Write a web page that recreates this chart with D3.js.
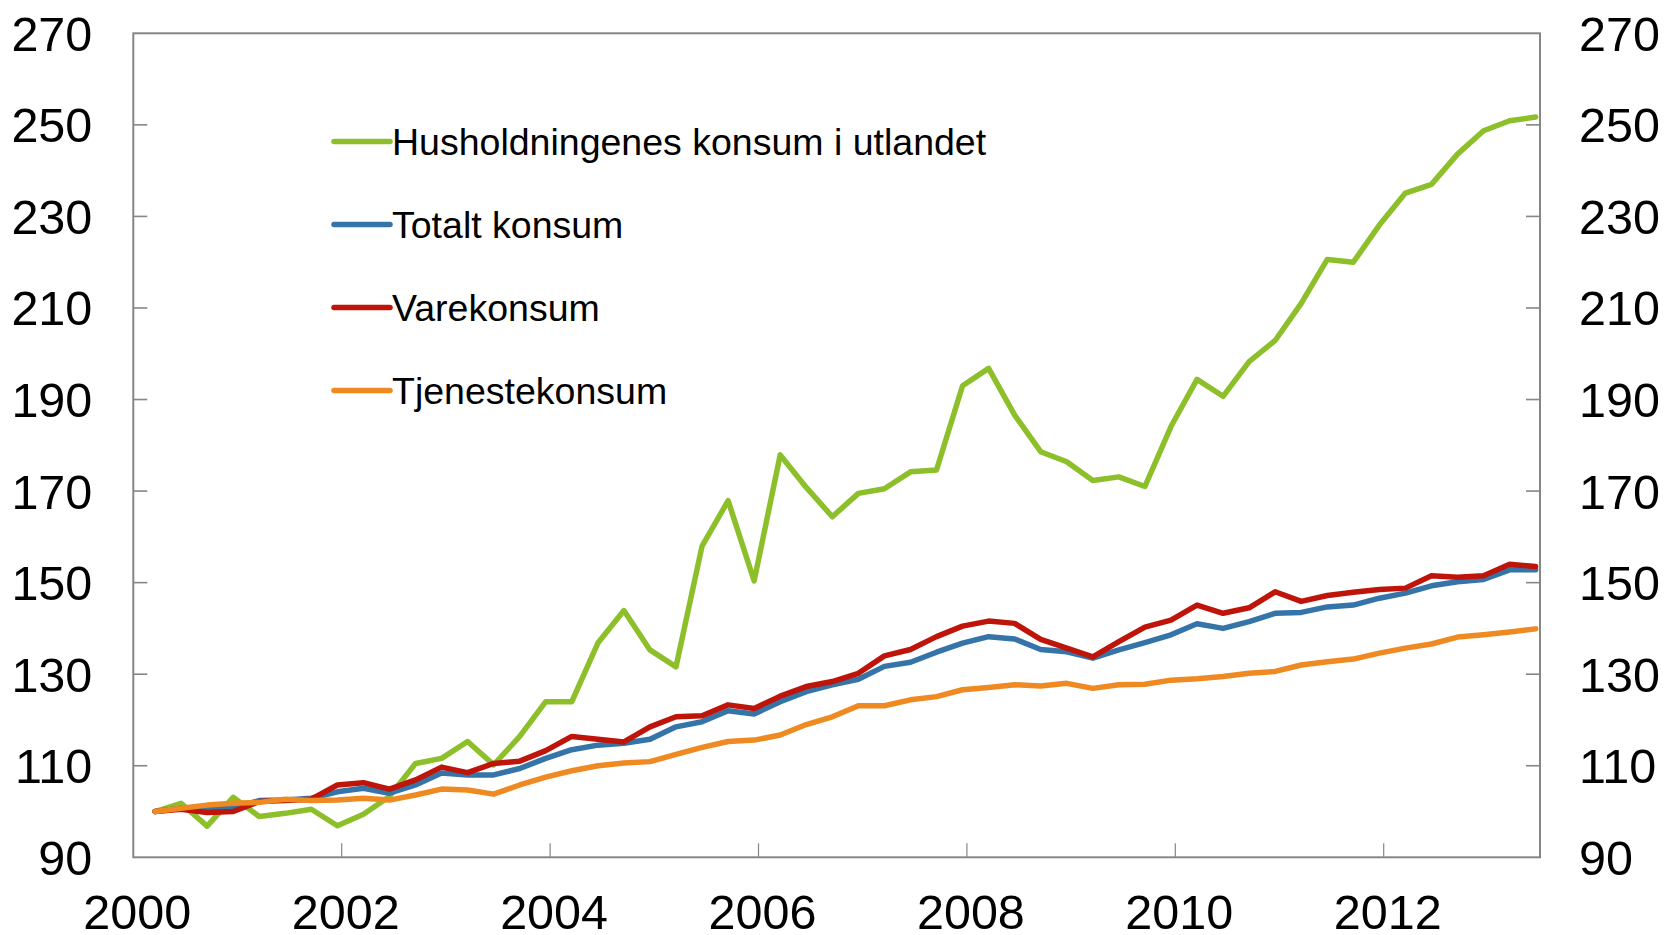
<!DOCTYPE html>
<html>
<head>
<meta charset="utf-8">
<script src="https://cdn.jsdelivr.net/npm/d3@7"></script>
<style>
    body { margin: 0; background: #fff; }
    text { font-family: "Liberation Sans", Arial, sans-serif; fill: #000; }
</style>
</head>
<body>
<div id="chart"></div>
<script>
const quarters = [
    '2000K1', '2000K2', '2000K3', '2000K4', '2001K1', '2001K2', '2001K3', '2001K4',
    '2002K1', '2002K2', '2002K3', '2002K4', '2003K1', '2003K2', '2003K3', '2003K4',
    '2004K1', '2004K2', '2004K3', '2004K4', '2005K1', '2005K2', '2005K3', '2005K4',
    '2006K1', '2006K2', '2006K3', '2006K4', '2007K1', '2007K2', '2007K3', '2007K4',
    '2008K1', '2008K2', '2008K3', '2008K4', '2009K1', '2009K2', '2009K3', '2009K4',
    '2010K1', '2010K2', '2010K3', '2010K4', '2011K1', '2011K2', '2011K3', '2011K4',
    '2012K1', '2012K2', '2012K3', '2012K4', '2013K1', '2013K2'
];

const utlandet = [
    100.0, 101.8, 96.8, 103.1, 98.9, 99.6, 100.5, 96.9, 99.4, 103.3,
    110.5, 111.6, 115.3, 110.2, 116.4, 124.0, 124.0, 136.8, 143.9, 135.3,
    131.6, 158.0, 167.9, 150.4, 177.9, 170.8, 164.4, 169.5, 170.5, 174.2,
    174.6, 193.0, 196.8, 186.6, 178.6, 176.4, 172.3, 173.1, 171.0, 184.1,
    194.4, 190.7, 198.3, 202.9, 211.0, 220.6, 220.0, 228.1, 235.1, 237.0,
    243.6, 248.7, 250.9, 251.7
];

const totalt = [
    100.0, 100.7, 100.5, 100.7, 102.4, 102.5, 102.9, 104.3, 105.1, 104.0,
    105.8, 108.4, 108.0, 108.0, 109.4, 111.6, 113.5, 114.5, 114.9, 115.8,
    118.5, 119.6, 122.0, 121.3, 124.0, 126.2, 127.7, 128.9, 131.7, 132.6,
    134.8, 136.8, 138.2, 137.7, 135.4, 134.9, 133.5, 135.3, 136.9, 138.6,
    141.0, 140.0, 141.5, 143.3, 143.5, 144.7, 145.1, 146.6, 147.7, 149.3,
    150.2, 150.7, 152.8, 152.8
];

const vare = [
    100.0, 100.5, 99.8, 100.0, 102.2, 102.4, 102.7, 105.8, 106.3, 104.9,
    106.9, 109.7, 108.5, 110.5, 111.0, 113.3, 116.4, 115.8, 115.2, 118.5,
    120.7, 120.9, 123.3, 122.5, 125.2, 127.3, 128.4, 130.2, 134.0, 135.4,
    138.2, 140.5, 141.6, 141.1, 137.6, 135.7, 133.8, 137.1, 140.3, 141.8,
    145.1, 143.3, 144.5, 148.0, 145.9, 147.2, 147.9, 148.5, 148.8, 151.5,
    151.2, 151.5, 154.0, 153.5
];

const tjeneste = [
    100.0, 100.7, 101.4, 101.8, 102.0, 102.7, 102.4, 102.5, 102.9, 102.5,
    103.6, 104.9, 104.7, 103.8, 105.8, 107.5, 108.9, 110.0, 110.6, 110.9,
    112.5, 114.0, 115.3, 115.6, 116.7, 119.0, 120.7, 123.1, 123.1, 124.4,
    125.1, 126.6, 127.1, 127.7, 127.4, 128.0, 126.9, 127.7, 127.8, 128.7,
    129.0, 129.5, 130.2, 130.6, 132.0, 132.7, 133.3, 134.6, 135.7, 136.6,
    138.1, 138.6, 139.2, 139.9
];

const seriesNames = ['Husholdningenes konsum i utlandet', 'Totalt konsum', 'Varekonsum', 'Tjenestekonsum'];
const seriesColors = ['#8dbf2b', '#3474a8', '#bf140a', '#ee8a21'];
const seriesValues = [utlandet, totalt, vare, tjeneste];

const xTicks = [2000, 2002, 2004, 2006, 2008, 2010, 2012];
const yTicks = [90, 110, 130, 150, 170, 190, 210, 230, 250, 270];

const width = 1667;
const height = 935;
const margin = { top: 33.3, right: 127, bottom: 77.7, left: 133.3 };
const innerW = width - margin.left - margin.right;
const innerH = height - margin.top - margin.bottom;
const axisColor = '#868686';
const labelSize = '48.5px';

const svg = d3.select('#chart').append('svg')
    .attr('width', width)
    .attr('height', height);

const g = svg.append('g')
    .attr('transform', `translate(${margin.left},${margin.top})`);

const xScale = d3.scaleLinear()
    .domain([2000, 2013.5])
    .range([0, innerW]);

const yScale = d3.scaleLinear()
    .domain([90, 270])
    .range([innerH, 0]);

// quarter label -> position in the middle of the quarter's last month
const quarterPos = q => +q.slice(0, 4) + (+q.slice(5) * 3 - 0.5) / 12;

// frame
g.append('rect')
    .attr('x', 0)
    .attr('y', 0)
    .attr('width', innerW)
    .attr('height', innerH)
    .attr('fill', 'none')
    .attr('stroke', axisColor)
    .attr('stroke-width', 2);

// y ticks, left and right, pointing inwards
g.selectAll('.ytick-l')
    .data(yTicks.slice(1, -1))
    .join('line')
    .attr('class', 'ytick-l')
    .attr('x1', 0)
    .attr('x2', 14)
    .attr('y1', d => yScale(d))
    .attr('y2', d => yScale(d))
    .attr('stroke', axisColor)
    .attr('stroke-width', 1.6);

g.selectAll('.ytick-r')
    .data(yTicks.slice(1, -1))
    .join('line')
    .attr('class', 'ytick-r')
    .attr('x1', innerW - 14)
    .attr('x2', innerW)
    .attr('y1', d => yScale(d))
    .attr('y2', d => yScale(d))
    .attr('stroke', axisColor)
    .attr('stroke-width', 1.6);

g.selectAll('.xtick')
    .data(xTicks.slice(1))
    .join('line')
    .attr('class', 'xtick')
    .attr('x1', d => xScale(d))
    .attr('x2', d => xScale(d))
    .attr('y1', innerH)
    .attr('y2', innerH - 14)
    .attr('stroke', axisColor)
    .attr('stroke-width', 1.2);

// tick labels
g.selectAll('.ylabel-l')
    .data(yTicks)
    .join('text')
    .attr('class', 'ylabel-l')
    .attr('x', -41)
    .attr('y', d => yScale(d))
    .attr('dy', '0.36em')
    .attr('text-anchor', 'end')
    .attr('font-size', labelSize)
    .text(d => d);

g.selectAll('.ylabel-r')
    .data(yTicks)
    .join('text')
    .attr('class', 'ylabel-r')
    .attr('x', innerW + 39)
    .attr('y', d => yScale(d))
    .attr('dy', '0.36em')
    .attr('text-anchor', 'start')
    .attr('font-size', labelSize)
    .text(d => d);

g.selectAll('.xlabel')
    .data(xTicks)
    .join('text')
    .attr('class', 'xlabel')
    .attr('x', d => xScale(d) + 4)
    .attr('y', innerH + 72)
    .attr('text-anchor', 'middle')
    .attr('font-size', labelSize)
    .text(d => d);

// lines
const lineGenerator = d3.line()
    .x((d, i) => xScale(quarterPos(quarters[i])))
    .y(d => yScale(d));

g.selectAll('.series')
    .data(seriesValues)
    .join('path')
    .attr('class', 'series')
    .attr('d', d => lineGenerator(d))
    .attr('fill', 'none')
    .attr('stroke', (d, i) => seriesColors[i])
    .attr('stroke-width', 5.5)
    .attr('stroke-linejoin', 'round')
    .attr('stroke-linecap', 'round');

// legend
const legend = svg.selectAll('.legend')
    .data(seriesNames)
    .join('g')
    .attr('class', 'legend')
    .attr('transform', (d, i) => `translate(334,${141.5 + i * 83})`);

legend.append('line')
    .attr('x1', 0)
    .attr('x2', 56)
    .attr('y1', 0)
    .attr('y2', 0)
    .attr('stroke', (d, i) => seriesColors[i])
    .attr('stroke-width', 5.5)
    .attr('stroke-linecap', 'round');

legend.append('text')
    .attr('x', 58)
    .attr('y', 0)
    .attr('dy', '0.35em')
    .attr('font-size', '37.5px')
    .text(d => d);
</script>
</body>
</html>
